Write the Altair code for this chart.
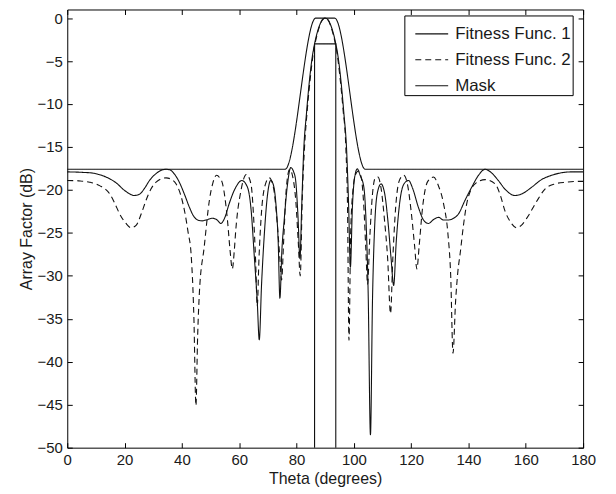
import altair as alt
import pandas as pd

# ---------------- data ----------------
series_names = ["Fitness Func. 1", "Fitness Func. 2", "Mask"]

ff1_theta = [0, 5, 9, 12, 14.8, 17.5, 19.4, 21.5, 23.3, 25.2, 27, 28.7, 31, 33.3, 34.5, 35.7,
             37.5, 39.1, 41, 42.6, 44, 45.5, 47, 48.4, 50.7, 52.3, 53.6, 55, 56.5, 58.8, 60.9,
             62.9, 64.2, 65.2, 66.3, 67.0, 67.8, 68.7, 69.8, 71.0, 72.0, 72.8, 73.6, 74.2, 74.9,
             75.7, 76.8, 78.0, 79.0, 79.7, 80.5, 81.2, 81.8, 82.5, 83.5, 84.5, 85.5, 86.3, 87.3,
             88.5, 90, 91.5, 92.7, 93.7, 94.5, 95.5, 96.5, 97.5, 98.2, 98.8, 99.5, 100.3, 101.2,
             102.2, 103.5, 104.3, 105.0, 105.8, 106.5, 107.3, 108.3, 109.5, 110.8, 112.0, 113.0,
             113.9, 114.8, 116, 117.5, 119.1, 120.5, 122.5, 124.3, 126.0, 128, 129.6, 131.3,
             133.0, 134.8, 136.5, 138.8, 141.1, 143.5, 145.8, 148, 150.4, 153, 156.2, 159, 162.0,
             165.5, 169.0, 172.5, 176, 180]
ff1_db = [-17.9, -17.95, -18.05, -18.3, -18.7, -19.3, -19.9, -20.4, -20.65, -20.5, -19.8, -18.9,
          -18.1, -17.65, -17.6, -17.65, -18.2, -19.1, -20.6, -22.0, -23.0, -23.5, -23.6, -23.5,
          -23.3, -23.5, -23.9, -23.2, -21.6, -19.7, -18.9, -19.7, -22.5, -27.4, -33, -37.45, -31,
          -25.5, -20.8, -18.9, -19.5, -21.6, -26, -32.6, -27, -23.5, -19.5, -17.4, -17.9, -18.9,
          -23, -28, -22, -15.5, -11, -7.3, -4.5, -3.0, -1.6, -0.5, 0, -0.5, -1.6, -3.0, -4.5,
          -7.3, -11, -15.5, -22, -29, -22, -18.5, -17.55, -18.3, -19.7, -24, -32, -48.5, -33,
          -24, -20.2, -19.3, -20.5, -24, -28, -31.1, -26, -21.5, -19.3, -18.9, -19.8, -22,
          -23.5, -23.9, -23.4, -23.2, -23.5, -23.5, -23.3, -22.8, -21.2, -19.7, -18.3, -17.6,
          -18.0, -18.9, -20, -20.65, -20.4, -19.7, -18.8, -18.3, -18.0, -17.9, -17.9]

ff2_theta = [0, 4, 7.8, 11.3, 14.8, 16.5, 18.3, 20.5, 22.3, 24.1, 25.8, 27.5, 29.2, 31.0, 34.5,
             36.5, 38.0, 39.5, 40.9, 42.2, 43.2, 44.2, 44.9, 45.5, 46.1, 47.8, 49.6, 50.8, 52.1,
             53.2, 54.2, 55.9, 56.8, 57.6, 58.3, 58.8, 60.6, 62.5, 64.1, 65.0, 65.7, 66.3, 66.9,
             67.8, 69.0, 70.5, 72, 73.3, 74.2, 74.8, 75.5, 76.4, 77.6, 78.7, 79.8, 80.6, 81.3,
             82, 82.8, 83.8, 84.8, 85.8, 86.7, 87.8, 89, 90, 91, 92.2, 93.3, 94.2, 95.2, 96.2,
             97.2, 97.8, 98.3, 98.9, 99.7, 100.6, 101.6, 102.6, 103.5, 104.2, 104.8, 105.5, 106.5,
             107.5, 108.4, 109.5, 110.7, 111.8, 112.8, 113.6, 114.6, 116, 117.4, 118.8, 120.0,
             121.2, 122.0, 122.8, 124.0, 125.8, 127.8, 129.5, 131.3, 132.8, 133.8, 134.6, 135.5,
             136.3, 137.1, 138.3, 139.4, 142.3, 145.8, 149.3, 151, 152.8, 154.8, 156.8, 158.8,
             160.9, 163.5, 166.7, 170.2, 174, 178.3, 180]
ff2_db = [-18.9, -18.95, -19.1, -19.5, -20.45, -21.5, -22.8, -23.9, -24.4, -24.1, -22.8, -21.2,
          -19.9, -19.1, -18.6, -18.8, -19.3, -20.5, -22.4, -25, -27.4, -35, -45.1, -37, -32.0,
          -26.6, -21.2, -19.2, -18.3, -18.6, -19.3, -23.5, -27, -29.2, -27, -24.7, -20.1, -18.2,
          -19.3, -23, -28, -33.5, -28, -22.5, -19.5, -18.6, -19.8, -24, -28, -30.5, -26, -20,
          -17.6, -18.5, -21.5, -26, -30, -21, -15, -10.5, -7, -4.2, -2.6, -1.2, -0.2, 0, -0.2,
          -1.2, -2.6, -4.2, -7, -10.5, -15, -22, -37.5, -25, -20, -18.2, -17.8, -18.6, -22, -27,
          -31, -26, -20.5, -18.6, -18.5, -19.8, -23.5, -28, -34.4, -28, -22, -18.8, -18.3,
          -19.5, -22.5, -26.5, -29.2, -26.5, -22, -19, -18.5, -19.5, -21.6, -25, -30, -39, -33,
          -29.5, -27.4, -24, -21.6, -19.3, -18.8, -19.3, -20.5, -22.5, -23.8, -24.4, -24.0,
          -23.0, -21.5, -19.9, -19.3, -19.1, -19.0, -19.0]

mask_upper_theta = [0, 76, 86.7, 93.3, 104, 180]
mask_upper_db = [-17.6, -17.6, 0, 0, -17.6, -17.6]
mask_lower_theta = [86.3, 86.3, 93.7, 93.7]
mask_lower_db = [-50, -3, -3, -50]

x_ticks = [0, 20, 40, 60, 80, 100, 120, 140, 160, 180]
y_ticks = [-50, -45, -40, -35, -30, -25, -20, -15, -10, -5, 0]

# ---------------- table ----------------
rows = []
def add(thetas, dbs, series, part):
    for i, (t, d) in enumerate(zip(thetas, dbs)):
        rows.append({"theta": t, "db": d, "series": series, "part": part, "idx": i})

add(ff1_theta, ff1_db, series_names[0], "ff1")
add(ff2_theta, ff2_db, series_names[1], "ff2")
add(mask_upper_theta, mask_upper_db, series_names[2], "mask_up")
add(mask_lower_theta, mask_lower_db, series_names[2], "mask_low")
df = pd.DataFrame(rows)

FONT = "Liberation Sans"
TXT = "#1a1a1a"

xscale = alt.Scale(domain=[0, 180], nice=False, zero=False)
yscale = alt.Scale(domain=[-50, 1], nice=False, zero=False)

common = dict(labelFont=FONT, labelFontSize=15, labelColor=TXT,
              titleFont=FONT, titleFontSize=16, titleColor=TXT, titleFontWeight="normal",
              tickColor="black", tickWidth=1, offset=-5, tickSize=5, domain=False, grid=False,
              labelFlush=False)

legend = alt.Legend(
    orient="none", legendX=338.5, legendY=6, title=None,
    fillColor="white", strokeColor="black", padding=1,
    symbolType="stroke", symbolSize=1089, symbolStrokeWidth=1.1, symbolOffset=9,
    labelFont=FONT, labelFontSize=17, labelColor=TXT, rowPadding=-12, labelOffset=6,
)

lines = alt.Chart(df).mark_line(strokeWidth=1.1, interpolate="monotone").encode(
    x=alt.X("theta:Q", scale=xscale,
            axis=alt.Axis(orient="bottom", values=x_ticks, title="Theta (degrees)",
                          labelPadding=5, titlePadding=3, **common)),
    y=alt.Y("db:Q", scale=yscale,
            axis=alt.Axis(orient="left", values=y_ticks, title="Array Factor (dB)",
                          labelPadding=5, titlePadding=2, **common)),
    color=alt.Color("series:N", sort=series_names,
                    scale=alt.Scale(domain=series_names, range=["#111111", "#111111", "#111111"]),
                    legend=legend),
    strokeDash=alt.StrokeDash("series:N", sort=series_names,
                              scale=alt.Scale(domain=series_names, range=[[1, 0], [6, 4], [1, 0]]),
                              legend=legend),
    detail="part:N",
    order=alt.Order("idx:Q"),
)

mirror = alt.Chart(df).mark_point(opacity=0).encode(
    x=alt.X("theta:Q", scale=xscale,
            axis=alt.Axis(orient="top", values=x_ticks, title=None, labels=False, **common)),
    y=alt.Y("db:Q", scale=yscale,
            axis=alt.Axis(orient="right", values=y_ticks, title=None, labels=False, **common)),
)

chart = alt.layer(lines, mirror).resolve_axis(x="independent", y="independent").properties(
    width=518, height=440,
    autosize=alt.AutoSizeParams(type="none"),
    padding={"left": 59.5, "top": 0.5, "right": 25, "bottom": 40},
    background="white",
).configure_view(stroke="black", strokeWidth=1)

chart.save("out.html", embed_options={"renderer": "svg", "actions": False})
